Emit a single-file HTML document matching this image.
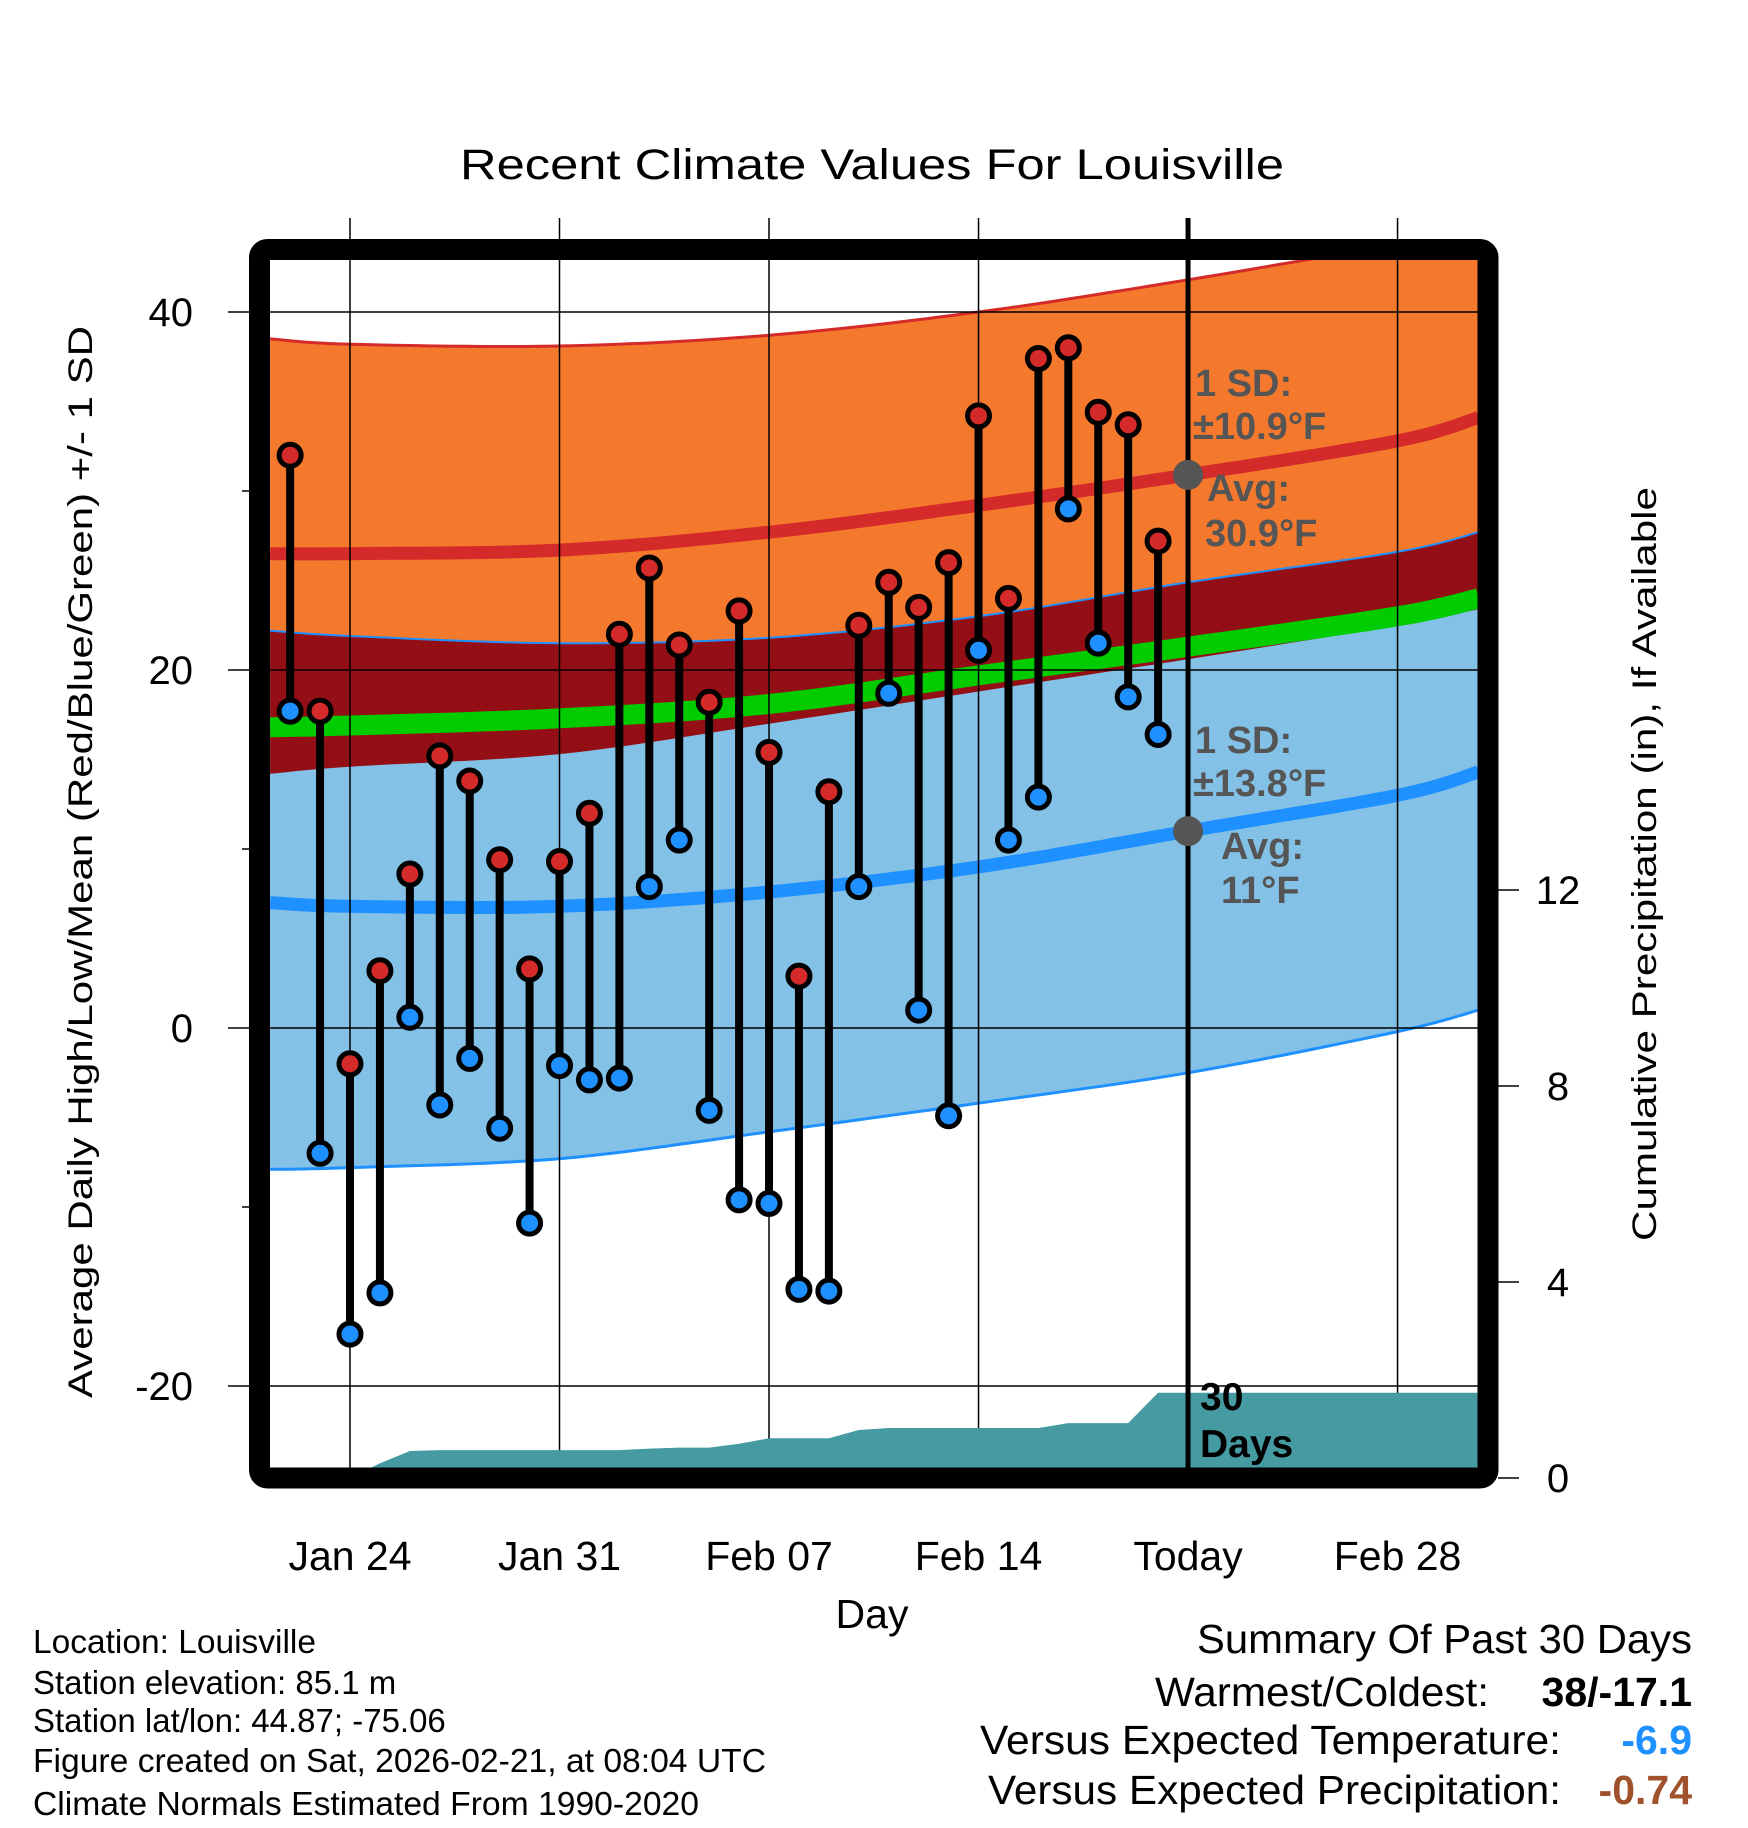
<!DOCTYPE html>
<html><head><meta charset="utf-8"><style>
html,body{margin:0;padding:0;background:#fff}
svg{display:block;font-family:"Liberation Sans",Arial,sans-serif}
</style></head><body>
<svg id="chart" width="1748" height="1828" viewBox="0 0 1748 1828" xmlns="http://www.w3.org/2000/svg">
<defs><clipPath id="plotclip"><rect x="270" y="260" width="1208" height="1208"/></clipPath></defs>
<rect width="1748" height="1828" fill="#fff"/>
<text x="872" y="179" font-size="43" text-anchor="middle" textLength="824" lengthAdjust="spacingAndGlyphs">Recent Climate Values For Louisville</text>
<g id="plot" clip-path="url(#plotclip)"></g>
<g id="over"></g>
<text transform="translate(92,862) rotate(-90)" font-size="34" text-anchor="middle" textLength="1072" lengthAdjust="spacingAndGlyphs">Average Daily High/Low/Mean (Red/Blue/Green) +/- 1 SD</text>
<text transform="translate(1656,864) rotate(-90)" font-size="34" text-anchor="middle" textLength="754" lengthAdjust="spacingAndGlyphs">Cumulative Precipitation (in), If Available</text>
<text x="872" y="1628" font-size="41" text-anchor="middle">Day</text>
<g font-size="33">
<text x="33" y="1653" textLength="283" lengthAdjust="spacingAndGlyphs">Location: Louisville</text>
<text x="33" y="1694">Station elevation: 85.1 m</text>
<text x="33" y="1732">Station lat/lon: 44.87; -75.06</text>
<text x="33" y="1772" textLength="733" lengthAdjust="spacingAndGlyphs">Figure created on Sat, 2026-02-21, at 08:04 UTC</text>
<text x="33" y="1815" textLength="666" lengthAdjust="spacingAndGlyphs">Climate Normals Estimated From 1990-2020</text>
</g>
<g font-size="41">
<text x="1692" y="1653" text-anchor="end" textLength="495" lengthAdjust="spacingAndGlyphs">Summary Of Past 30 Days</text>
<text x="1489" y="1706" text-anchor="end" textLength="334" lengthAdjust="spacingAndGlyphs">Warmest/Coldest:</text>
<text x="1692" y="1706" text-anchor="end" font-weight="bold">38/-17.1</text>
<text x="1561" y="1754" text-anchor="end" textLength="581" lengthAdjust="spacingAndGlyphs">Versus Expected Temperature:</text>
<text x="1692" y="1754" text-anchor="end" font-weight="bold" fill="#1e90ff">-6.9</text>
<text x="1561" y="1804" text-anchor="end" textLength="573" lengthAdjust="spacingAndGlyphs">Versus Expected Precipitation:</text>
<text x="1692" y="1804" text-anchor="end" font-weight="bold" fill="#a0522d">-0.74</text>
</g>
</svg>
<script>
// normals sampled at day offsets from Jan 24
const normDays=[-2.67,0,7,14,21,28,35,37.7];
const hiUp=[38.5,38.2,38.1,38.7,40.0,41.8,43.8,44.6];
const avgHi=[26.5,26.5,26.7,27.7,29.2,30.9,32.8,34.1];
const hiLow=[14.2,14.6,15.3,17.0,18.8,20.6,22.5,23.4];
const meanT=[16.8,16.9,17.3,18.1,19.7,21.3,23.0,24.0];
const loUp=[22.2,21.9,21.5,21.8,23.0,24.9,26.6,27.7];
const avgLo=[7.0,6.8,6.8,7.6,9.0,11.0,13.0,14.3];
const loLow=[-7.9,-7.8,-7.3,-5.8,-4.2,-2.5,-0.2,1.0];
// observed Jan 22 .. Feb 20 (day offset -2..27)
const highs=[32,17.7,-2,3.2,8.6,15.2,13.8,9.4,3.3,9.3,12,22,25.7,21.4,18.2,23.3,15.4,2.9,13.2,22.5,24.9,23.5,26,34.2,24,37.4,38,34.4,33.7,27.2];
const lows=[17.7,-7,-17.1,-14.8,0.6,-4.3,-1.7,-5.6,-10.9,-2.1,-2.9,-2.8,7.9,10.5,-4.6,-9.6,-9.8,-14.6,-14.7,7.9,18.7,1,-4.9,21.1,10.5,12.9,29,21.5,18.5,16.4];
const precip=[0,0,0,0.3,0.55,0.57,0.57,0.57,0.57,0.57,0.57,0.57,0.6,0.62,0.62,0.7,0.81,0.81,0.81,0.98,1.02,1.02,1.02,1.02,1.02,1.02,1.12,1.12,1.12,1.74];
const tempTicks=[40,20,0,-20];
const minorTicks=[30,10,-10];
const precipTicks=[0,4,8,12];
const dateLabels=["Jan 24","Jan 31","Feb 07","Feb 14","Today","Feb 28"];
const dateDays=[0,7,14,21,28,35];

const NS="http://www.w3.org/2000/svg";
const xs=d=>350+d*29.93;
const yT=v=>1028-v*17.9;
const yP=p=>1478-p*49;
function mk(tag,attrs,parent){const e=document.createElementNS(NS,tag);for(const k in attrs)e.setAttribute(k,attrs[k]);parent.appendChild(e);return e;}
const plot=document.getElementById('plot');
const over=document.getElementById('over');
// smooth Catmull-Rom sampling of the normal curves
function smooth(arr){
  const out=[];const n=arr.length;
  for(let i=0;i<n-1;i++){
    const p0=[normDays[Math.max(0,i-1)],arr[Math.max(0,i-1)]],p1=[normDays[i],arr[i]],p2=[normDays[i+1],arr[i+1]],p3=[normDays[Math.min(n-1,i+2)],arr[Math.min(n-1,i+2)]];
    for(let s=0;s<12;s++){
      const t=s/12,t2=t*t,t3=t2*t;
      const f=k=>0.5*((2*p1[k])+(-p0[k]+p2[k])*t+(2*p0[k]-5*p1[k]+4*p2[k]-p3[k])*t2+(-p0[k]+3*p1[k]-3*p2[k]+p3[k])*t3);
      out.push(xs(f(0)).toFixed(1)+','+yT(f(1)).toFixed(1));
    }
  }
  out.push(xs(normDays[n-1]).toFixed(1)+','+yT(arr[n-1]).toFixed(1));
  return out;
}
function band(a,b,fill,name){
  const p=smooth(a).concat(smooth(b).reverse()).join(' ');
  const e=mk('polygon',{points:p,fill:fill},plot);
  
  
}
band(hiLow,hiUp,'#f5792d','high-sd-band');
band(loLow,loUp,'#84c1e7','low-sd-band');
band(hiLow,loUp,'#940f15','overlap-band');
function line(a,color,w,name){
  const e=mk('polyline',{points:smooth(a).join(' '),fill:'none',stroke:color,'stroke-width':w},plot);
  
  
}
line(meanT,'#00cc00',20,'mean-line');
line(hiUp,'#d42a2a',3,'high-upper-edge');
line(loUp,'#1e90ff',2,'low-upper-edge');
line(loLow,'#1e90ff',3,'low-lower-edge');
line(avgHi,'#d42a2a',13,'avg-high-line');
line(avgLo,'#1e90ff',13,'avg-low-line');
// gridlines
dateDays.forEach(d=>{
  const e=mk('line',{x1:xs(d),x2:xs(d),y1:218,y2:1468,stroke:'#000','stroke-width':1.5},over);
  
  
});
tempTicks.forEach(v=>{
  const e=mk('line',{x1:228,x2:1478,y1:yT(v),y2:yT(v),stroke:'#000','stroke-width':1.5},over);
  
  
  const t=mk('text',{x:193,y:yT(v)+14,'font-size':40,'text-anchor':'end'},over);
  t.textContent=v;
  
  
});
minorTicks.forEach(v=>{
  const e=mk('line',{x1:242,x2:252,y1:yT(v),y2:yT(v),stroke:'#000','stroke-width':1.5},over);
  
  
});
// precipitation area
{
  const dd=precip.map((p,i)=>i-2);
  let s=[xs(-2.67)+','+1470];
  dd.forEach((d,i)=>s.push(xs(d).toFixed(1)+','+yP(precip[i]).toFixed(1)));
  s.push(xs(37.7)+','+yP(precip[precip.length-1]).toFixed(1));
  s.push(xs(37.7)+','+1470);
  const e=mk('polygon',{points:s.join(' '),fill:'#469ba3'},over);
  
  
}
// today line
{
  const e=mk('line',{x1:xs(28),x2:xs(28),y1:218,y2:1468,stroke:'#000','stroke-width':5},over);
  
  
}
// sticks and dots
highs.forEach((h,i)=>{
  const x=xs(i-2);
  const e=mk('line',{x1:x,x2:x,y1:yT(h),y2:yT(lows[i]),stroke:'#000','stroke-width':8},over);
  
  
});
highs.forEach((h,i)=>{
  const x=xs(i-2);
  const a=mk('circle',{cx:x,cy:yT(h),r:11,fill:'#d42a2a',stroke:'#000','stroke-width':5},over);
  
  
  const b=mk('circle',{cx:x,cy:yT(lows[i]),r:11,fill:'#1e90ff',stroke:'#000','stroke-width':5},over);
  
  
});
// annotations
const todayHi=30.9, todayLo=11;
{
  const a=mk('circle',{cx:xs(28),cy:yT(todayHi),r:15,fill:'#555'},over);
  
  
  const b=mk('circle',{cx:xs(28),cy:yT(todayLo),r:15,fill:'#555'},over);
  
  
}
function ann(txt,x,y,name,size,fill){
  const t=mk('text',{x:x,y:y,'font-size':size||38,'font-weight':'bold',fill:fill||'#555'},over);
  t.textContent=txt;
  
  
}
ann('1 SD:',1195,396,'high-sd-label');
ann('±10.9°F',1193,439,'high-sd-value');
ann('Avg:',1207,501,'high-avg-label');
ann('30.9°F',1205,546,'high-avg-value');
ann('1 SD:',1195,753,'low-sd-label');
ann('±13.8°F',1193,796,'low-sd-value');
ann('Avg:',1221,859,'low-avg-label');
ann('11°F',1221,903,'low-avg-value');
ann('30',1200,1410,'days-label',39,'#000');
ann('Days',1200,1457,'days-label-2',39,'#000');
// frame
{
  const e=mk('rect',{x:259.5,y:249.5,width:1228.5,height:1228.5,rx:8,fill:'none',stroke:'#000','stroke-width':21},over);
  
  
}
precipTicks.forEach(p=>{
  const e=mk('line',{x1:1498,x2:1519,y1:yP(p),y2:yP(p),stroke:'#000','stroke-width':1.5},over);
  
  
  const t=mk('text',{x:1558,y:yP(p)+14,'font-size':40,'text-anchor':'middle'},over);
  t.textContent=p;
  
  
});
dateLabels.forEach((l,i)=>{
  const t=mk('text',{x:xs(dateDays[i]),y:1570,'font-size':41,'text-anchor':'middle'},over);
  t.textContent=l;
  
  
});
</script>
</body></html>
